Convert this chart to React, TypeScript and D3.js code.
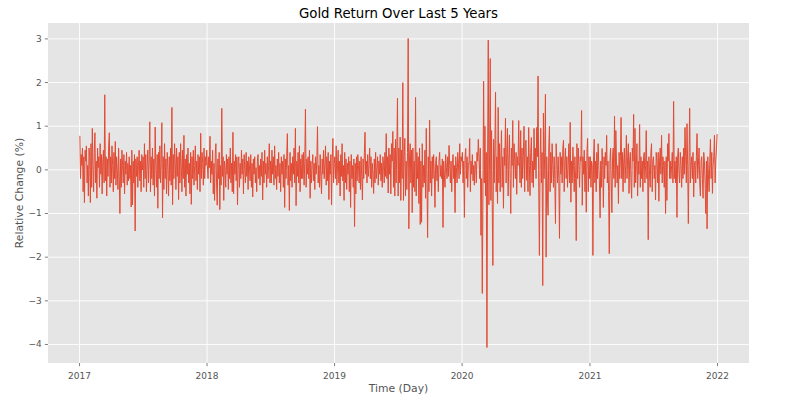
import React from 'react';
import * as d3 from 'd3';

// Daily-ish gold returns (%) per quarter
const r2017q1 = [0.78,-0.2,0.35,0.1,0.5,-0.5,0.3,-0.75,0.45,0.2,0.55,-0.3,0.1,-0.6,0.5,0.3,-0.75,0.6,-0.4,0.95,0.1,-0.5,0.4,0.85,-0.3,0.2,-0.65,0.5,0.05,0.3,-0.4,0.6,-0.1,0.35,-0.55,0.2,0.45,-0.3,1.72,-0.25,0.3,-0.6,0.25,-0.15,0.55,0.85,-0.4,0.3];
const r2017q2 = [-0.3,0.55,0.1,-0.5,0.4,-0.2,0.65,-0.35,0.3,0.0,-0.45,0.5,-0.15,-1.0,0.25,-0.4,0.45,0.1,-0.3,0.35,-0.55,0.2,-0.1,0.4,-0.35,0.15,-0.25,0.3,-0.2,0.1,-0.85,0.45,-0.8,0.2,-0.3,0.35,-1.4,0.25,-0.15,0.3,-0.4,0.1,0.45,-0.25,0.2,-0.5,0.35,0.0];
const r2017q3 = [0.3,-0.4,0.6,-0.2,0.35,-0.5,0.1,0.45,-0.3,0.2,1.1,-0.5,0.3,-0.2,0.5,-0.35,0.25,-0.6,0.98,0.1,-0.4,0.35,-0.88,0.4,-0.2,0.55,-0.3,0.15,1.08,-1.1,0.3,-0.45,0.6,-0.2,0.25,-0.55,0.4,0.05,-0.6,0.3,-0.25,0.5,-0.35,1.43,-0.8,0.35,-0.2,0.6];
const r2017q4 = [0.2,-0.45,0.5,-0.15,0.3,-0.68,0.4,-0.3,0.6,0.1,-0.5,0.45,-0.2,0.79,-0.4,0.25,-0.6,0.35,-0.1,0.5,-0.3,0.15,-0.55,0.4,-0.79,0.3,-0.2,0.45,-0.35,0.1,0.55,-0.25,0.2,-0.45,0.35,-0.1,0.3,-0.5,0.84,-0.2,0.4,0.15,-0.35,0.5,-0.2,0.3,0.1,0.45];
const r2018q1 = [0.1,-0.2,0.3,0.05,0.77,-0.3,0.2,-0.1,0.45,-0.55,0.15,-0.7,0.35,0.6,-0.3,-0.81,0.25,-0.2,0.4,-0.91,0.1,-0.35,1.41,-0.15,0.3,-0.7,0.2,0.05,-0.4,0.35,-0.1,0.25,-0.45,0.3,-0.2,0.5,-0.3,0.15,-0.5,0.86,-0.55,0.2,-0.1,0.35,-0.25,0.3,-0.8,0.2];
const r2018q2 = [0.3,-0.4,0.15,-0.2,0.45,-0.1,0.25,-0.55,0.35,0.0,-0.3,0.4,-0.15,0.2,-0.45,0.3,0.1,-0.25,0.35,-0.4,0.15,-0.62,0.25,-0.1,0.3,-0.3,0.05,-0.5,0.2,0.35,-0.2,0.1,-0.35,0.25,-0.15,0.4,-0.69,0.2,-0.3,0.45,-0.1,0.15,-0.4,0.3,-0.2,0.1,0.6,-0.3];
const r2018q3 = [0.2,-0.3,0.45,-0.1,0.3,-0.35,0.55,-0.2,0.1,-0.45,0.25,-0.15,0.4,-0.3,0.15,-0.5,0.3,-0.1,0.2,-0.4,0.35,-0.86,0.25,-0.2,0.3,0.83,-0.35,0.1,-0.93,0.4,-0.25,0.15,-0.4,0.3,-0.1,0.5,-0.3,0.95,-0.82,0.2,-0.15,0.4,-0.3,0.55,-0.5,0.25,-0.2,0.35];
const r2018q4 = [-0.2,0.4,-0.35,0.2,1.39,-0.4,0.25,-0.1,0.3,-0.2,0.45,-0.65,0.2,-0.3,0.1,0.35,-0.25,0.15,-0.45,0.3,-0.1,0.2,0.99,-0.3,0.1,-0.4,0.35,-0.15,-0.55,0.25,-0.1,0.45,-0.2,0.15,0.55,-0.35,0.3,-0.25,0.4,-0.68,0.2,-0.1,0.35,-0.8,0.25,0.72,-0.3,0.15];
const r2019q1 = [0.3,-0.2,0.55,-0.35,0.1,0.45,-0.3,0.2,-0.6,0.35,-0.15,0.6,-0.25,0.1,-0.7,0.4,-0.3,0.25,-0.45,0.15,-0.1,0.3,-0.5,0.2,-0.86,0.35,-0.2,0.1,-0.4,0.25,-1.3,0.15,-0.55,0.3,-0.25,0.35,0.1,-0.3,0.2,-0.45,0.3,-0.15,-0.69,0.25,-0.2,0.4,0.86,-0.1];
const r2019q2 = [0.2,-0.3,0.35,-0.15,0.1,0.5,-0.2,0.3,-0.4,0.15,-0.1,-0.54,0.25,-0.3,0.4,-0.2,0.05,0.3,-0.35,0.2,-0.1,0.35,-0.25,0.15,-0.4,0.3,0.1,-0.3,0.4,-0.15,0.83,-0.2,0.3,-0.53,0.5,-0.1,0.35,-0.55,0.6,0.2,0.88,-0.4,0.5,-0.6,0.7,-0.3,0.45,1.64];
const r2019q3 = [-0.6,0.5,-0.3,0.75,-0.7,0.45,-0.2,2.0,-0.7,0.3,0.72,-0.6,0.2,-0.45,0.4,3.01,-1.35,0.3,0.6,-0.3,0.45,-0.98,0.5,-0.4,0.2,-0.5,1.66,-0.6,0.4,-0.2,0.3,-0.77,0.5,-1.25,0.2,-1.2,0.6,-0.4,0.1,-0.3,0.45,-0.65,0.95,-0.2,-1.55,0.3,-0.5,1.14];
const r2019q4 = [-0.3,0.2,-0.6,0.3,-0.2,0.35,-0.1,-0.86,0.15,0.3,-0.25,0.1,-0.5,0.2,0.4,-0.15,0.1,-0.2,0.25,-1.32,0.2,-0.1,-0.4,0.35,0.05,-0.2,0.3,-0.15,0.56,0.1,-0.3,0.2,-0.5,0.15,0.35,-0.2,0.1,-0.98,0.3,0.05,-0.3,0.4,0.15,-0.2,0.6,-0.1,0.3,0.2];
const r2020q1 = [0.4,-0.3,0.2,-1.09,0.3,0.49,-0.2,0.3,-0.4,0.1,0.2,0.72,-0.5,0.2,-0.1,0.35,-0.25,0.1,-0.35,0.2,0.1,-0.3,0.4,0.2,0.7,0.3,-0.2,0.5,-1.5,-0.2,-2.83,-0.5,2.03,-0.3,1.0,-0.6,0.4,-4.07,0.2,2.97,-0.8,0.3,2.55,-0.7,0.9,-0.8,-2.19,0.7];
const r2020q2 = [-0.3,0.5,1.78,-0.5,0.3,-0.77,1.43,-0.3,0.6,-0.5,0.2,0.9,-0.4,0.3,-0.88,0.5,0.1,1.18,-0.3,0.4,0.95,-0.6,0.2,0.8,-0.2,-1.0,0.5,0.1,1.13,-0.4,0.6,0.2,-0.2,0.4,-0.56,0.3,0.1,1.13,0.2,-0.3,0.9,-0.4,0.5,-0.2,0.3,1.0,-0.5,0.6];
const r2020q3 = [0.68,-0.24,0.3,-0.5,0.97,0.1,-0.59,0.4,0.74,-0.3,0.2,-0.4,0.95,0.0,0.5,-0.2,0.97,0.3,2.15,-0.4,-1.96,0.2,0.95,-0.3,0.4,-2.65,1.3,-0.2,0.4,1.73,-2.0,0.3,-0.6,-1.04,0.5,1.0,-0.5,0.4,-0.3,0.6,0.1,-0.4,0.3,-0.2,-1.23,0.6,0.2,-0.3];
const r2020q4 = [0.3,-0.2,-1.57,0.4,-0.1,0.3,-0.3,0.5,0.68,-0.5,0.2,0.5,-0.2,0.3,-0.4,0.1,0.6,-0.3,1.09,-0.74,0.2,-0.3,0.52,0.1,-0.5,0.3,-0.2,-1.62,0.6,-0.2,0.5,0.1,-0.4,0.3,0.2,1.36,-0.81,0.3,-0.1,0.45,-0.5,0.2,-0.97,0.4,0.72,-0.5,0.3,-0.2];
const r2021q1 = [0.3,-0.4,0.2,0.1,-1.96,0.3,0.7,-0.3,0.2,-0.5,0.4,-0.2,0.6,0.1,-0.3,-1.1,0.2,-0.4,0.49,0.1,-0.86,0.3,-0.2,0.4,0.1,0.79,-0.3,0.2,-0.5,-1.92,0.2,0.5,-0.3,-0.98,0.3,0.5,-0.2,1.23,-0.4,0.9,0.2,-0.3,0.1,-0.77,0.4,-0.2,0.3,1.2];
const r2021q2 = [-0.2,0.4,-0.5,0.2,0.5,-0.3,0.1,0.79,-0.2,0.3,0.6,-0.54,0.2,0.4,-0.3,-0.65,0.5,0.2,1.27,-0.4,0.95,-0.3,0.1,0.6,-0.6,0.2,-0.1,1.04,-0.4,0.3,-0.2,0.2,-0.5,0.3,0.4,-0.3,0.1,0.9,-0.2,0.2,-1.6,0.3,-0.1,-0.4,0.4,0.6,-0.5,0.2];
const r2021q3 = [0.3,-0.2,0.1,-0.69,0.4,0.2,-0.3,0.4,-0.72,0.2,0.5,-0.1,0.79,-0.3,0.3,0.1,-0.4,0.2,-1.0,0.3,-0.7,0.6,0.2,0.83,-0.2,0.2,-0.2,0.1,0.4,-0.3,1.57,-0.2,0.2,-0.3,0.3,-1.09,0.3,0.5,-0.1,-0.3,0.4,0.1,-0.4,0.3,-0.2,0.5,-0.1,0.97];
const r2021q4 = [0.3,-0.3,1.06,0.1,-1.23,0.2,1.41,-0.3,0.1,0.3,-0.2,0.4,-0.62,0.1,0.2,-0.3,0.3,0.83,-0.2,0.1,0.5,-0.3,-0.6,0.2,0.3,-0.2,-0.65,0.4,0.2,-0.3,-1.0,0.2,-1.35,0.3,-0.1,-0.5,0.2,0.7,-0.2,0.4,-0.54,0.1,0.3,0.79,-0.3,0.2,0.5,0.82];

const years = [2017, 2018, 2019, 2020, 2021];
const quarterArrays = [
  [r2017q1, r2017q2, r2017q3, r2017q4],
  [r2018q1, r2018q2, r2018q3, r2018q4],
  [r2019q1, r2019q2, r2019q3, r2019q4],
  [r2020q1, r2020q2, r2020q3, r2020q4],
  [r2021q1, r2021q2, r2021q3, r2021q4],
];
const yTickValues = [-4, -3, -2, -1, 0, 1, 2, 3];
const xTickYears = [2017, 2018, 2019, 2020, 2021, 2022];

const TITLE = 'Gold Return Over Last 5 Years';
const X_LABEL = 'Time (Day)';
const Y_LABEL = 'Relative Change (%)';

type Pt = { date: Date; value: number };

const data: Pt[] = [];
years.forEach((yr, yi) => {
  quarterArrays[yi].forEach((vals, q) => {
    const s = new Date(yr, q * 3, 1).getTime();
    const e = new Date(yr, q * 3 + 3, 1).getTime();
    vals.forEach((v, i) => {
      data.push({ date: new Date(s + ((i + 0.5) / vals.length) * (e - s)), value: v });
    });
  });
});

const W = 796;
const H = 400;
const L = 48;
const R = 749;
const T = 23;
const B = 363;
const FONT = '"DejaVu Sans", sans-serif';

export default function App() {
  const [t0, t1] = d3.extent(data, (d) => d.date.getTime()) as [number, number];
  const tp = (t1 - t0) * 0.05;
  const [v0, v1] = d3.extent(data, (d) => d.value) as [number, number];
  const vp = (v1 - v0) * 0.05;

  const x = d3.scaleTime().domain([new Date(t0 - tp), new Date(t1 + tp)]).range([L, R]);
  const y = d3.scaleLinear().domain([v0 - vp, v1 + vp]).range([B, T]);

  const line = d3
    .line<Pt>()
    .x((d) => x(d.date))
    .y((d) => y(d.value));

  const fmtY = (v: number) => (v < 0 ? '\u2212' + Math.abs(v) : String(v));

  return (
    <svg
      width={W}
      height={H}
      style={{ position: 'absolute', left: 0, top: 0, background: '#fff' }}
      fontFamily={FONT}
    >
      <rect x={L} y={T} width={R - L} height={B - T} fill="#E5E5E5" />
      {yTickValues.map((v) => (
        <line key={'gy' + v} x1={L} x2={R} y1={y(v)} y2={y(v)} stroke="#fff" strokeWidth={0.9} />
      ))}
      {xTickYears.map((yr) => {
        const px = x(new Date(yr, 0, 1));
        return <line key={'gx' + yr} x1={px} x2={px} y1={T} y2={B} stroke="#fff" strokeWidth={0.9} />;
      })}
      <path
        d={line(data) || ''}
        fill="none"
        stroke="#E24A33"
        strokeWidth={1}
        strokeLinejoin="round"
      />
      {yTickValues.map((v) => (
        <g key={'ty' + v}>
          <line x1={L - 3.2} x2={L} y1={y(v)} y2={y(v)} stroke="#555555" strokeWidth={0.75} />
          <text x={L - 6.3} y={y(v)} dy="0.33em" textAnchor="end" fontSize={9} fill="#555555">
            {fmtY(v)}
          </text>
        </g>
      ))}
      {xTickYears.map((yr) => {
        const px = x(new Date(yr, 0, 1));
        return (
          <g key={'tx' + yr}>
            <line x1={px} x2={px} y1={B} y2={B + 3.2} stroke="#555555" strokeWidth={0.75} />
            <text x={px} y={B + 16} textAnchor="middle" fontSize={9} fill="#555555">
              {d3.timeFormat('%Y')(new Date(yr, 0, 1))}
            </text>
          </g>
        );
      })}
      <text x={(L + R) / 2} y={17.5} textAnchor="middle" fontSize={13.3} fill="#000">
        {TITLE}
      </text>
      <text x={(L + R) / 2} y={392} textAnchor="middle" fontSize={10.8} fill="#555555">
        {X_LABEL}
      </text>
      <text
        transform={`translate(22.5, ${(T + B) / 2}) rotate(-90)`}
        textAnchor="middle"
        fontSize={10.8}
        fill="#555555"
      >
        {Y_LABEL}
      </text>
    </svg>
  );
}
